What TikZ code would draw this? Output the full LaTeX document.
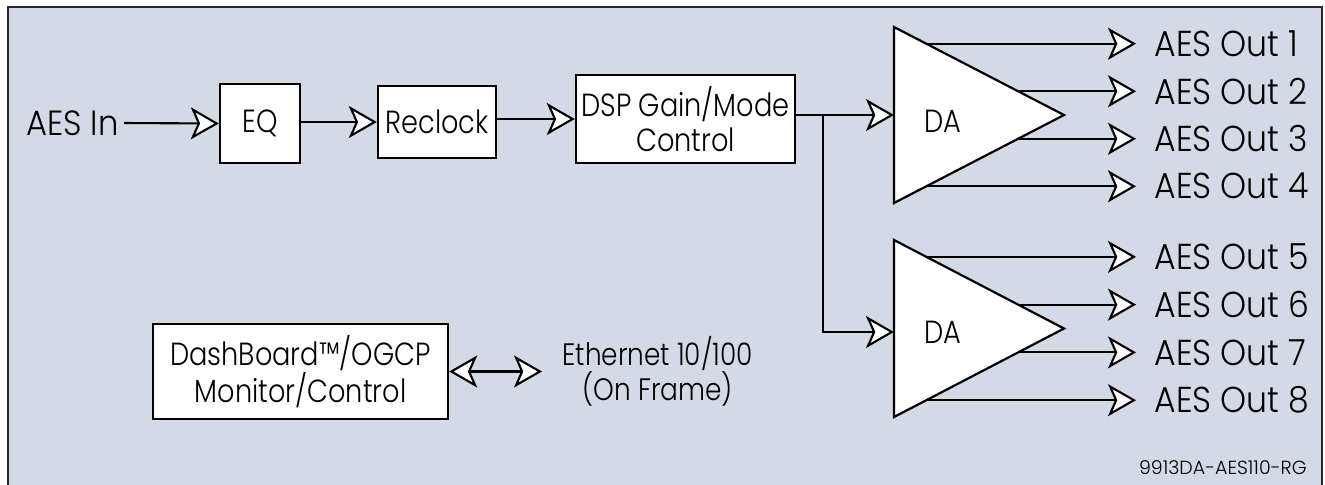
\documentclass[tikz,border=0pt]{standalone}
\usepackage{fontspec}
\setmainfont{Poppins}[UprightFont=* Light, FakeStretch=0.85]
\newfontfamily\widefont{Poppins}[UprightFont=* Light, FakeStretch=0.92]
\newfontfamily\plainfont{Poppins}[UprightFont=* Light]
\usetikzlibrary{arrows.meta,calc}

\definecolor{panelbg}{RGB}{211,218,230}
\definecolor{framegray}{RGB}{40,40,40}

\begin{document}
\begin{tikzpicture}[x=0.5pt,y=-0.5pt,
    font=\fontsize{16pt}{17.5pt}\selectfont,
    blockbox/.style={draw, line width=1.2pt, fill=white, inner sep=0pt, align=center},
    ampbody/.style={draw, line width=1.1pt, fill=white},
    sig/.style={line width=1.05pt, -{Stealth[length=14pt, width=16pt, inset=3.5pt, fill=white]}},
    bisig/.style={line width=1.05pt, {Stealth[length=14pt, width=16pt, inset=3.5pt, fill=white]}-{Stealth[length=14pt, width=16pt, inset=3.5pt, fill=white]}},
    outlabel/.style={anchor=west, inner xsep=9pt, inner ysep=0pt, font=\widefont\fontsize{18pt}{20pt}\selectfont}]

    \useasboundingbox (0,0) rectangle (1325,484);
    \draw[framegray, line width=1.3pt, fill=panelbg] (8,7) rectangle (1322,500);

    % input chain
    \node[anchor=east, inner sep=2.5pt, font=\widefont\fontsize{17.5pt}{19pt}\selectfont] (aes_in) at (124,123) {AES In};
    \node[blockbox, minimum width=40pt, minimum height=39.5pt] (eq) at (260,123.5) {EQ};
    \node[blockbox, minimum width=59pt, minimum height=36pt] (reclock) at (437,122) {Reclock};
    \node[blockbox, minimum width=109.5pt, minimum height=44pt] (dsp) at (685.5,119) {DSP Gain/Mode\\Control};

    % first DA
    \coordinate (da1_top) at (894,27);
    \coordinate (da1_bot) at (894,203);
    \coordinate (da1_tip) at (1064,115);
    \coordinate (da1_in)  at (894,115);
    \draw[ampbody] (da1_top) -- (da1_tip) -- (da1_bot) -- cycle;
    \node at (943,121) (da1_label) {DA};

    % second DA
    \coordinate (da2_top) at (894,240);
    \coordinate (da2_bot) at (894,417);
    \coordinate (da2_tip) at (1064,328.5);
    \coordinate (da2_in)  at (894,332);
    \draw[ampbody] (da2_top) -- (da2_tip) -- (da2_bot) -- cycle;
    \node at (943,332) (da2_label) {DA};

    \coordinate (split) at (823,115);
    \coordinate (tip_col) at (1136,0);

    % output taps on the triangle edges
    \coordinate (da1_o1) at ($(da1_top)!0.19!(da1_tip)$);
    \coordinate (da1_o2) at ($(da1_top)!0.73!(da1_tip)$);
    \coordinate (da1_o3) at ($(da1_bot)!0.73!(da1_tip)$);
    \coordinate (da1_o4) at ($(da1_bot)!0.19!(da1_tip)$);
    \coordinate (da2_o1) at ($(da2_top)!0.19!(da2_tip)$);
    \coordinate (da2_o2) at ($(da2_top)!0.73!(da2_tip)$);
    \coordinate (da2_o3) at ($(da2_bot)!0.73!(da2_tip)$);
    \coordinate (da2_o4) at ($(da2_bot)!0.19!(da2_tip)$);

    \node[outlabel] (out1) at (da1_o1 -| tip_col) {AES Out 1};
    \node[outlabel] (out2) at (da1_o2 -| tip_col) {AES Out 2};
    \node[outlabel] (out3) at (da1_o3 -| tip_col) {AES Out 3};
    \node[outlabel] (out4) at (da1_o4 -| tip_col) {AES Out 4};
    \node[outlabel] (out5) at (da2_o1 -| tip_col) {AES Out 5};
    \node[outlabel] (out6) at (da2_o2 -| tip_col) {AES Out 6};
    \node[outlabel] (out7) at (da2_o3 -| tip_col) {AES Out 7};
    \node[outlabel] (out8) at (da2_o4 -| tip_col) {AES Out 8};

    % control
    \node[blockbox, minimum width=147.5pt, minimum height=47.5pt] (dashboard) at (300.5,371.5) {DashBoard\texttrademark/OGCP\\Monitor/Control};
    \node[anchor=west, align=center, inner xsep=10pt, font=\fontsize{15.5pt}{17.5pt}\selectfont] (ethernet) at (542,371.5) {Ethernet 10/100\\(On Frame)};

    \node[anchor=east, inner sep=0pt, font=\plainfont\fontsize{9.5pt}{11pt}\selectfont] (drawing_no) at (1307,468) {9913DA-AES110-RG};

    \draw[sig] (aes_in.east) -- (eq.west);
    \draw[sig] (eq.east |- reclock.west) -- (reclock.west);
    \draw[sig] (reclock.east |- dsp.west) -- (dsp.west);
    \draw[sig] (dsp.east |- da1_in) -- (da1_in);
    \draw[sig] (split) |- (da2_in);

    \draw[sig] (da1_o1) -- (out1.west);
    \draw[sig] (da1_o2) -- (out2.west);
    \draw[sig] (da1_o3) -- (out3.west);
    \draw[sig] (da1_o4) -- (out4.west);
    \draw[sig] (da2_o1) -- (out5.west);
    \draw[sig] (da2_o2) -- (out6.west);
    \draw[sig] (da2_o3) -- (out7.west);
    \draw[sig] (da2_o4) -- (out8.west);

    \draw[bisig] (dashboard.east) -- (ethernet.west);

\end{tikzpicture}
\end{document}
